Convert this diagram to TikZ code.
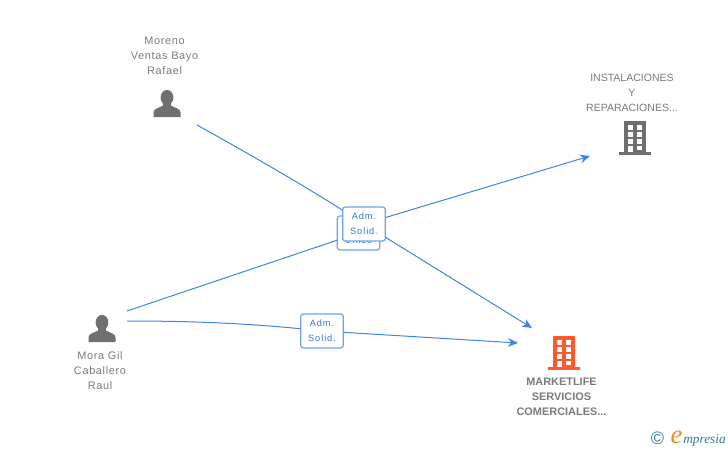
\documentclass[tikz,border=0pt]{standalone}
\usepackage{fontspec}
\setmainfont{Liberation Sans}
\newfontfamily\lblfont[LetterSpace=6]{Liberation Sans}
\newfontfamily\boxfont[LetterSpace=10]{Liberation Sans}
\newfontfamily\logofont{Liberation Serif}
\usetikzlibrary{arrows.meta}
\definecolor{linkblue}{HTML}{3F84E5}
\definecolor{boxtext}{HTML}{2F76D8}
\definecolor{icongray}{HTML}{6F6F6F}
\definecolor{iconorange}{HTML}{FF5A2B}
\definecolor{txtgray}{HTML}{7A7A7A}
\definecolor{logoteal}{HTML}{2F7B8C}
\definecolor{logoorange}{HTML}{F08A1D}
\tikzset{
  x=0.75pt,y=-0.75pt,
  link/.style={draw=linkblue,line width=0.75pt},
  linkarrow/.style={link,-{Stealth[length=7.5pt,width=6.5pt]}},
  rolebox/.style={draw=linkblue!75,line width=0.9pt,rounded corners=2pt,fill=white,
    minimum width=32pt,minimum height=25.5pt,inner sep=0pt,align=center,
    text=boxtext,font=\boxfont\fontsize{6.9}{11.2}\selectfont},
  lbl/.style={text=txtgray,align=center,inner sep=0pt,font=\lblfont\fontsize{8.2}{11.2}\selectfont},
  lblcaps/.style={text=txtgray,align=center,inner sep=0pt,font=\fontsize{7.9}{11.2}\selectfont},
  lblbold/.style={text=txtgray,align=center,inner sep=0pt,font=\fontsize{8.2}{11.2}\selectfont\bfseries},
  pics/person/.style={code={
    \fill[icongray] (0,-6.5) circle[x radius=6.4,y radius=7.6];
    \fill[icongray] (-13.5,13) -- (-13.5,8.5) .. controls (-13.5,4.5) and (-8,4) .. (-4,1.5)
      -- (4,1.5) .. controls (8,4) and (13.5,4.5) .. (13.5,8.5) -- (13.5,13) -- cycle;
    \fill[icongray] (-3.6,-2) rectangle (3.6,3);
  }},
  pics/building/.style={code={
    \fill[#1] (5,0) rectangle (27,31);
    \fill[#1] (0,31) rectangle (32,34);
    \foreach \yy in {4,11.3,18} {
      \fill[white] (9,\yy) rectangle (14,\yy+4.5);
      \fill[white] (18,\yy) rectangle (23,\yy+4.5);
    }
    \fill[white] (9,25) rectangle (14,31);
    \fill[white] (18,25) rectangle (23,29);
  }}
}
\begin{document}
\begin{tikzpicture}
\useasboundingbox (0,0) rectangle (728,450);
% end points
\coordinate (morenoEnd) at (197,125);
\coordinate (moraEndA) at (127,311);
\coordinate (moraEndB) at (127,321);
\coordinate (instEnd) at (590,156);
\coordinate (marketEndA) at (532,328);
\coordinate (marketEndB) at (518,343);
\coordinate (boxC) at (358.5,233);
\coordinate (boxA) at (364,224);
\coordinate (boxB) at (322,331);
% connectors
\draw[link] (moraEndA) -- (boxC);
\draw[linkarrow] (boxA) -- (instEnd);
\draw[linkarrow] (morenoEnd) .. controls (260,160) and (320,195) .. (boxA) -- (marketEndA);
\draw[link] (moraEndB) .. controls (200,321) and (260,324) .. (boxB);
\draw[linkarrow] (boxB) -- (marketEndB);
% labels on connectors
\node[rolebox] (roleC) at (358.5,233) {Adm.\\Unico};
\node[rolebox] (roleA) at (364,224) {Adm.\\Solid.};
\node[rolebox] (roleB) at (322,331) {Adm.\\Solid.};
% icons
\pic at (167,104) {person};
\pic at (102,329) {person};
\pic at (619,121) {building=icongray};
\pic at (548,336) {building=iconorange};
% texts
\node[lbl] (moreno) at (164.5,56) {Moreno\\Ventas Bayo\\Rafael};
\node[lbl] (mora) at (100,371) {Mora Gil\\Caballero\\Raul};
\node[lblcaps] (inst) at (632,92.5) {INSTALACIONES\\Y\\REPARACIONES...};
\node[lblbold] (market) at (561.5,397) {MARKETLIFE\\SERVICIOS\\COMERCIALES...};
% logo
\node[inner sep=0pt,text=logoteal,font=\fontsize{13.5}{13.5}\selectfont] (copy) at (657.5,438.5) {©};
\node[inner sep=0pt,text=logoorange,font=\logofont\itshape\fontsize{20}{20}\selectfont] (logoe) at (676.5,437) {e};
\node[inner sep=0pt,anchor=west,text=logoteal,font=\logofont\itshape\fontsize{10}{10}\selectfont] (logot) at (683,440) {mpresia};
\end{tikzpicture}
\end{document}
